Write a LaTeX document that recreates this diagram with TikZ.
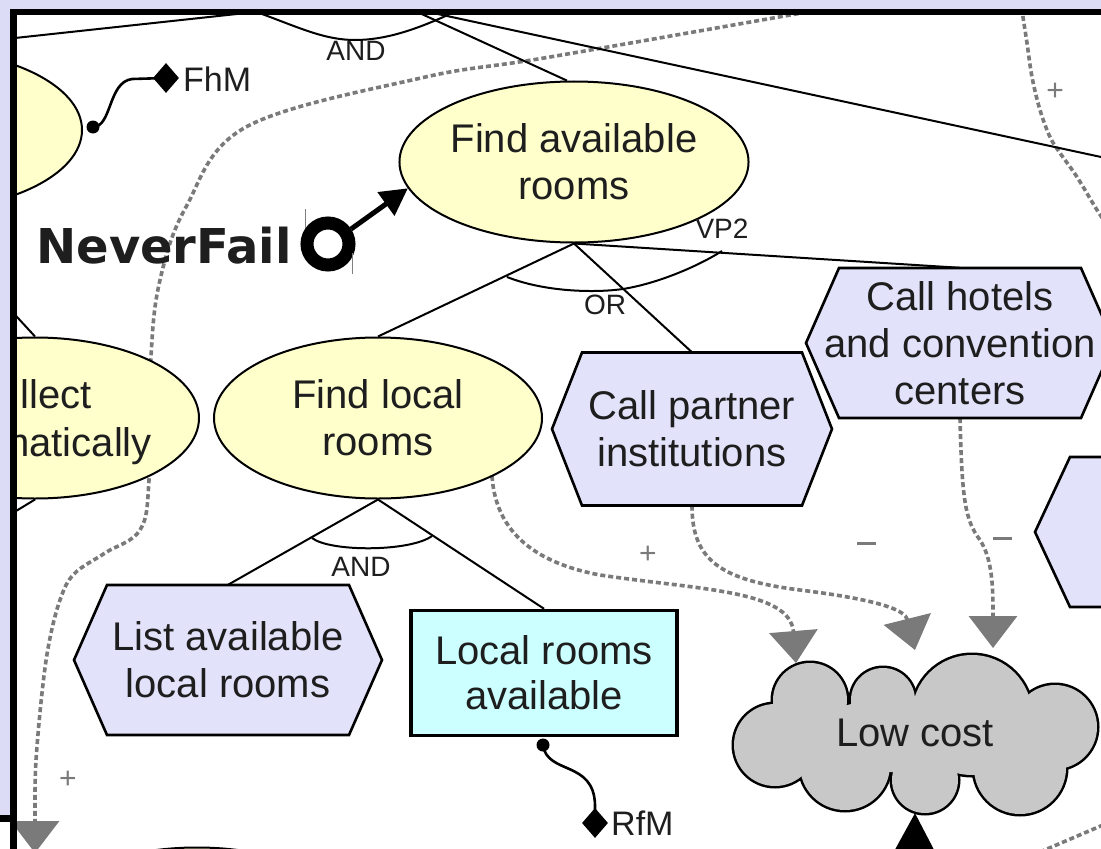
\documentclass[tikz,border=0pt]{standalone}
\usepackage{fontspec}
\setmainfont{Liberation Sans}
\newfontfamily\boldsans{DejaVu Sans}
\usetikzlibrary{arrows.meta,shapes.geometric}
\definecolor{lav}{HTML}{DCDCF7}
\definecolor{goalfill}{HTML}{FFFFCC}
\definecolor{taskfill}{HTML}{E2E2FA}
\definecolor{resfill}{HTML}{CCFFFF}
\definecolor{softfill}{HTML}{C8C8C8}
\definecolor{depgray}{HTML}{7A7A7A}
\definecolor{ink}{HTML}{1E1E1E}
\newcommand\hexat[5]{\draw[hexline] ({#1-#3},{#2-#4}) -- ({#1+#3},{#2-#4}) -- ({#1+#3+#5},{#2}) -- ({#1+#3},{#2+#4}) -- ({#1-#3},{#2+#4}) -- ({#1-#3-#5},{#2}) -- cycle;}
\tikzset{
  goal/.style={ellipse, draw=black, line width=2bp, fill=goalfill, minimum width=328bp, minimum height=161bp, inner sep=0pt, align=center, text=ink, font=\fontsize{40bp}{47bp}\selectfont},
  tasktext/.style={inner sep=0pt, align=center, text=ink, font=\fontsize{40bp}{47bp}\selectfont},
  hexline/.style={draw=black, line width=2.6bp, fill=taskfill, line join=miter},
  resource/.style={rectangle, draw=black, line width=3.5bp, fill=resfill, minimum width=266bp, minimum height=125bp, inner sep=0pt, align=center, text=ink, font=\fontsize{40bp}{45bp}\selectfont},
  link/.style={draw=black, line width=2bp},
  dep/.style={draw=depgray, line width=3.6bp, dash pattern=on 5bp off 3bp},
  deptip/.style={-{Triangle[length=32bp,width=48bp]}},
  lbl/.style={text=ink, inner sep=0pt, font=\fontsize{28bp}{28bp}\selectfont},
  sign/.style={text=depgray, inner sep=0pt, font=\fontsize{30bp}{30bp}\selectfont},
  minus/.style={fill=depgray, minimum width=19bp, minimum height=3bp, inner sep=0pt},
  bigtext/.style={text=ink, inner sep=0pt, font=\fontsize{40bp}{47bp}\selectfont},
  meas/.style={text=ink, inner sep=0pt, font=\fontsize{34bp}{34bp}\selectfont},
  puff/.style={draw=black, line width=5bp},
}
\begin{document}
\begin{tikzpicture}[x=1bp,y=-1bp]
\useasboundingbox (0,0) rectangle (1101,849);
\fill[lav] (0,0) rectangle (1101,849);
\fill[white] (0,822) rectangle (17,849);
\fill[white] (17,15) rectangle (1101,849);
\begin{scope}
\clip (17,15) rectangle (1101,849);
% free ends of connectors
\coordinate (d1s) at (830,8);
\coordinate (d1e) at (35,853);
\coordinate (pl1) at (320,5);
\coordinate (pa) at (396,5);
\coordinate (pb) at (402,5);
\coordinate (ae) at (1115,160);
\coordinate (cin) at (-40,255);
\coordinate (cout) at (-40,545);
\coordinate (botsrc) at (914,900);
\coordinate (d2e) at (796,663);
\coordinate (d3e) at (915,650);
\coordinate (d4e) at (993,648);
% invisible anchor nodes for hexagons / cloud
\node[tasktext, minimum width=220bp, minimum height=153bp] (cp) at (692,429) {};
\node[tasktext, minimum width=242bp, minimum height=150bp] (ch) at (960,343) {};
\node[tasktext, minimum width=242bp, minimum height=150bp] (la) at (228,660) {};
\node[tasktext, minimum width=362bp, minimum height=160bp] (lc) at (915,733) {};
% dotted contribution links (behind nodes)
\draw[dep, deptip] plot[smooth, tension=0.6] coordinates {(d1s) (550,57) (421,78) (246,127) (186,207) (160,280) (151,357) (149,480) (140,530) (105,553) (74,574) (60,600) (49,643) (42,693) (36,760) (35,800)} -- (d1e);
\draw[dep] plot[smooth, tension=0.6] coordinates {(1022,8) (1023,17) (1027,43) (1032,77) (1040,110) (1050,137) (1060,153) (1077,177) (1097,210) (1108,226)};
\draw[dep] (1040,852) -- (1110,822);
\draw[dep, deptip] (492,476) .. controls (495,520) and (520,560) .. (600,575) .. controls (700,590) and (790,590) .. (d2e);
\draw[dep, deptip] (cp.south) .. controls (692,560) and (720,580) .. (800,590) .. controls (880,600) and (905,610) .. (d3e);
\draw[dep, deptip] (ch.south) .. controls (962,500) and (965,520) .. (980,540) .. controls (993,560) and (993,590) .. (d4e);
% goal ellipses
\node[goal] (tl) at (-82,130) {};
\node[goal] (co) at (35,418) {};
\node[goal] (fa) at (574,162) {Find available\\rooms};
\node[goal] (fl) at (378,418) {Find local\\rooms};
\node[goal] (bl) at (197,928) {};
% decomposition links
\draw[link] (pl1) -- (tl.north);
\draw[link] (pa) -- (ae);
\draw[link] (pb) -- (fa.95);
\draw[link] (262,14) .. controls (300,28) and (325,40) .. (355,40) .. controls (385,40) and (415,30) .. (450,14);
\draw[link] (cin) -- (co.north);
\draw[link] (co.south) -- (cout);
\draw[link] (fa.south) -- (fl.north);
\draw[link] (fa.south) -- (cp.north);
\draw[link] (fa.south) -- (ch.north);
\draw[link] (507,277) .. controls (545,292) and (595,293) .. (623,289) .. controls (660,283) and (700,265) .. (722,251);
\draw[link] (fl.south) -- (la.north);
\node[resource] (lr) at (544,673) {Local rooms\\available};
\draw[link] (fl.south) -- (lr.north);
\draw[link] (312,538) .. controls (330,552) and (410,552) .. (432,536);
% task hexagons
\hexat{692}{429}{110}{76.5}{30}
\hexat{960}{343}{121}{75}{33}
\hexat{1191}{532}{121}{75}{35}
\hexat{228}{660}{121}{75}{33}
\node[tasktext] at (cp.center) {Call partner\\institutions};
\node[tasktext] at (ch.center) {Call hotels\\and convention\\centers};
\node[tasktext] at (la.center) {List available\\local rooms};
\node[resource] at (544,673) {Local rooms\\available};
% softgoal cloud
\foreach \cx/\cy/\r in {775/745/41, 810/700/37, 883/700/32, 972/715/60, 1055/727/42, 1020/768/46, 925/780/33, 845/765/45}
  \draw[puff] (\cx,\cy) circle [radius=\r];
\foreach \cx/\cy/\r in {775/745/41, 810/700/37, 883/700/32, 972/715/60, 1055/727/42, 1020/768/46, 925/780/33, 845/765/45}
  \fill[softfill] (\cx,\cy) circle [radius=\r];
\fill[softfill] (915,735) ellipse [x radius=110, y radius=38];
\node[tasktext] at (lc.center) {Low cost};
\draw[line width=2bp, -{Triangle[length=36bp,width=38bp]}] (botsrc) -- (lc.south);
% partial text of left goal
\node[bigtext, anchor=base east] at (92,408) {llect};
\node[bigtext, anchor=base east] at (152,456) {matically};
% decomposition labels
\node[lbl] (andtop) at (356,51) {AND};
\node[lbl] (orl) at (605,305) {OR};
\node[lbl] (vp) at (722,229) {VP2};
\node[lbl] (andbot) at (361,567) {AND};
% contribution signs
\node[sign] at (1055,92) {+};
\node[sign] at (648,555) {+};
\node[sign] at (68,780) {+};
\node[minus] at (866,543) {};
\node[minus] at (1002,538) {};
% measures FhM and RfM
\node[circle, fill=black, inner sep=0pt, minimum size=13bp] (fhdot) at (93,127) {};
\node[diamond, fill=black, inner sep=0pt, minimum width=26bp, minimum height=30bp] (fhd) at (166,78) {};
\draw[line width=2.6bp] (fhdot.center) .. controls (112,127) and (108,82) .. (132,79) -- (fhd.center);
\node[meas, anchor=west] (fht) at (183,79) {FhM};
\node[circle, fill=black, inner sep=0pt, minimum size=13bp] (rfdot) at (543,745) {};
\node[diamond, fill=black, inner sep=0pt, minimum width=26bp, minimum height=30bp] (rfd) at (595,823) {};
\draw[line width=2.6bp] (rfdot.center) .. controls (547,775) and (594,760) .. (595,805) -- (rfd.center);
\node[meas, anchor=west] (rft) at (611,823) {RfM};
% NeverFail annotation
\node[anchor=base east, inner sep=0pt, text=ink, font={\fontsize{48bp}{48bp}\boldsans\bfseries}] (nf) at (292,263) {NeverFail};
\node[circle, draw=black, line width=13bp, minimum size=42bp, inner sep=0pt] (ring) at (328,244) {};
\draw[line width=5bp, -{Triangle[length=27bp,width=28bp]}] (ring.33) -- (fa.189);
\draw[gray, line width=0.8bp] (305,209) -- (305,228);
\draw[gray, line width=0.8bp] (352,253) -- (352,274);
\end{scope}
% window frame
\fill[black] (10,9) rectangle (1101,15);
\fill[black] (10,9) rectangle (17,849);
\fill[black] (0,815) rectangle (12,822);
\end{tikzpicture}
\end{document}
